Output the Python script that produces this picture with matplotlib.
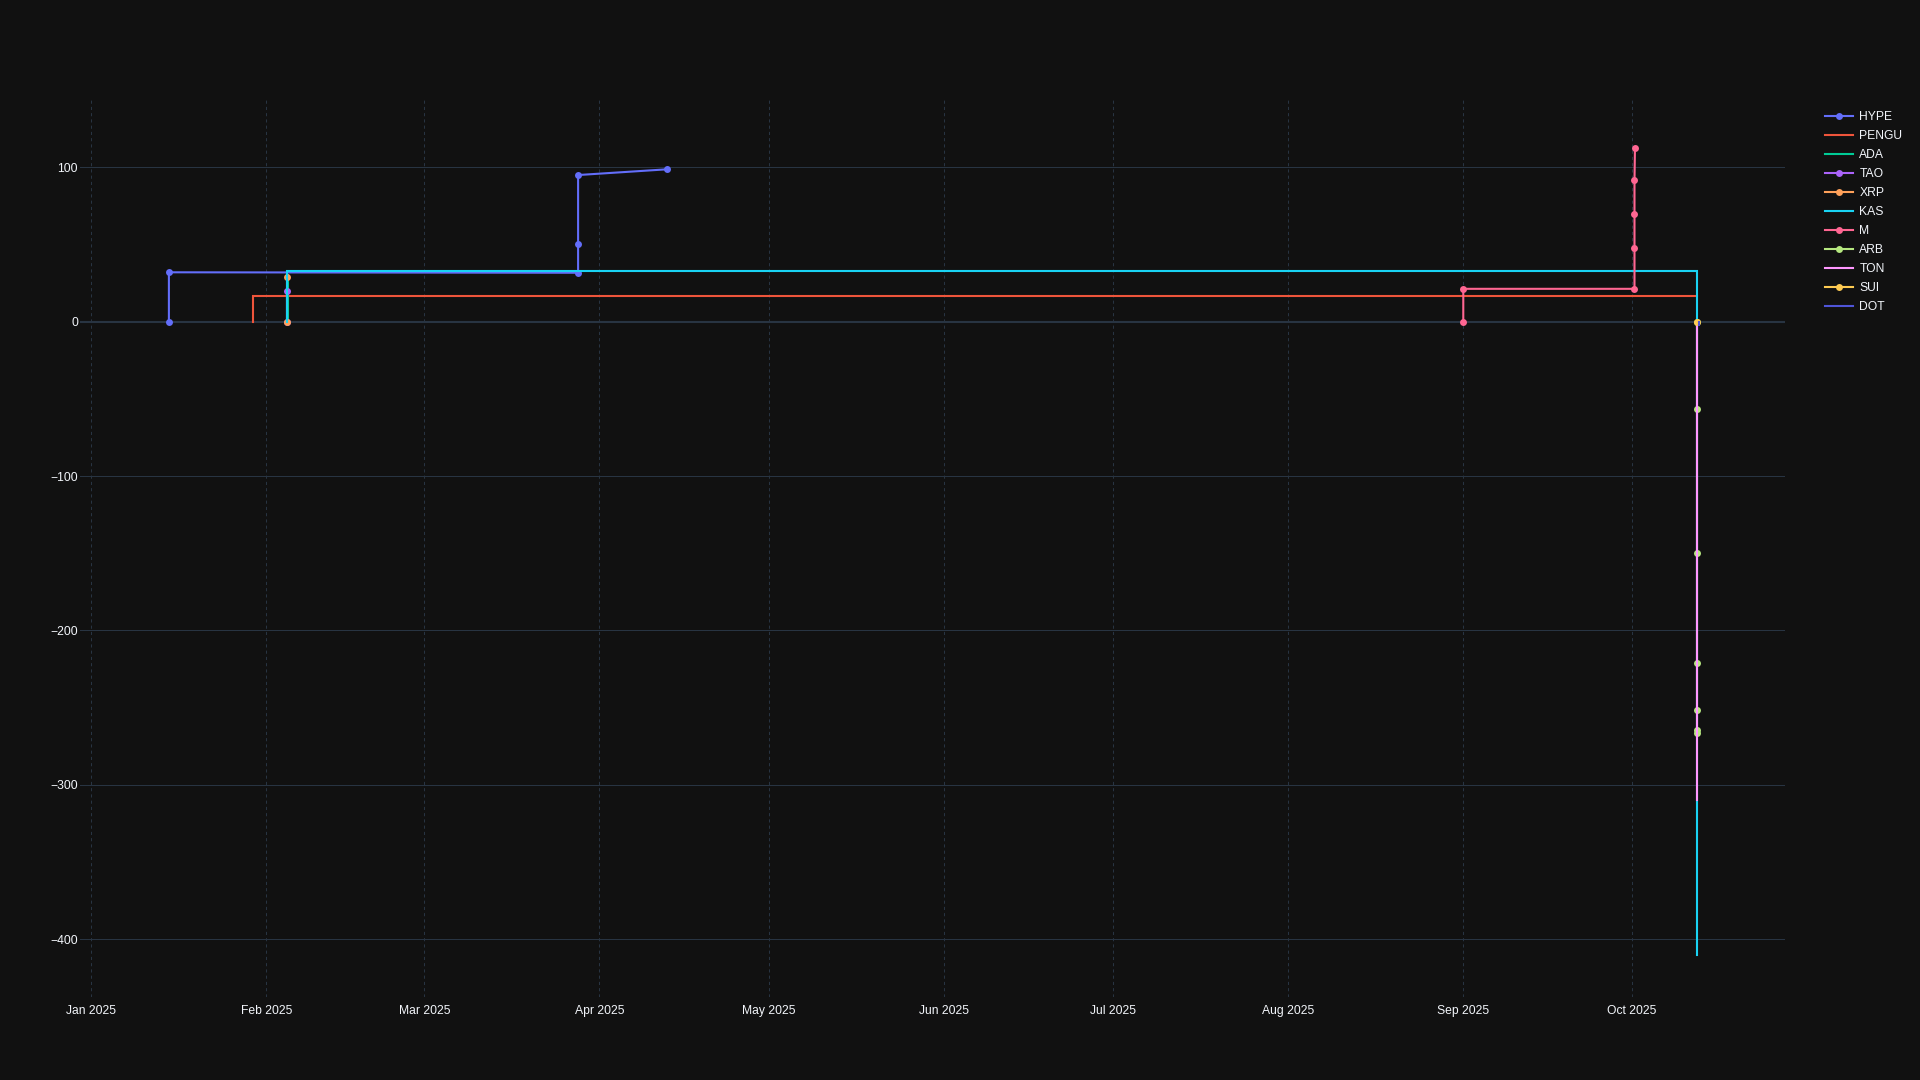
import pandas as pd
import matplotlib
matplotlib.use("Agg")
import matplotlib.pyplot as plt
import matplotlib.dates as mdates
from matplotlib.lines import Line2D

# === Cumulative PnL per coin ===
hype_dates = ["2025-01-14 18:00", "2025-01-14 18:00", "2025-03-28 06:00", "2025-03-28 06:00",
              "2025-03-28 06:00", "2025-04-12 23:00"]
hype_pnl = [0, 32.0, 31.7, 50.1, 95.0, 98.7]

pengu_dates = ["2025-01-29 17:00", "2025-01-29 17:00", "2025-10-12 11:00"]
pengu_pnl = [0, 16.8, 16.8]

ada_dates = ["2025-02-04 19:00", "2025-02-04 19:00"]
ada_pnl = [0, 30.0]

tao_dates = ["2025-02-04 17:00", "2025-02-04 17:00"]
tao_pnl = [0, 20.1]

xrp_dates = ["2025-02-04 17:00", "2025-02-04 17:00"]
xrp_pnl = [0, 28.7]

kas_dates = ["2025-02-04 17:00", "2025-02-04 17:00", "2025-10-12 11:00", "2025-10-12 11:00"]
kas_pnl = [0, 32.9, 32.9, -410.2]

m_dates = ["2025-09-01 02:00", "2025-09-01 02:00", "2025-10-01 10:00", "2025-10-01 10:00",
           "2025-10-01 10:00", "2025-10-01 10:00", "2025-10-01 12:00"]
m_pnl = [0, 21.3, 21.3, 47.7, 69.7, 91.5, 112.3]

arb_dates = ["2025-10-12 11:00"] * 7
arb_pnl = [0, -56.3, -150.0, -221.0, -251.5, -264.5, -266.5]

ton_dates = ["2025-10-12 11:00", "2025-10-12 11:00"]
ton_pnl = [0, -309.8]

sui_dates = ["2025-10-12 11:00"]
sui_pnl = [0]

dot_dates = ["2025-10-12 19:00", "2025-10-12 19:00"]
dot_pnl = [0, -2.0]

series = [
    ("HYPE", hype_dates, hype_pnl, "#636EFA", True),
    ("PENGU", pengu_dates, pengu_pnl, "#EF553B", False),
    ("ADA", ada_dates, ada_pnl, "#00CC96", False),
    ("TAO", tao_dates, tao_pnl, "#AB63FA", True),
    ("XRP", xrp_dates, xrp_pnl, "#FFA15A", True),
    ("KAS", kas_dates, kas_pnl, "#19D3F3", False),
    ("M", m_dates, m_pnl, "#FF6692", True),
    ("ARB", arb_dates, arb_pnl, "#B6E880", True),
    ("TON", ton_dates, ton_pnl, "#FF97FF", False),
    ("SUI", sui_dates, sui_pnl, "#FECB52", True),
    ("DOT", dot_dates, dot_pnl, "#4F55D8", False),
]

bg = "#111111"
grid = "#283442"
txt = "#f2f5fa"
fs = 8.7

plt.rcParams['font.family'] = ['Liberation Sans', 'DejaVu Sans']

fig = plt.figure(figsize=(19.2, 10.8), dpi=100, facecolor=bg)
ax = fig.add_axes([80 / 1920, 83 / 1080, 1705 / 1920, 897 / 1080], facecolor=bg)

lw = 1.5
ms = 5.0
handles = []
for i, (name, d, v, c, mk) in enumerate(series):
    x = pd.to_datetime(d)
    ax.plot(x, v, color=c, lw=lw, marker="o" if mk else None, ms=ms,
            markeredgewidth=0, zorder=3 + i, solid_joinstyle="miter")
    handles.append(Line2D([], [], color=c, lw=lw, marker="o" if mk else None,
                          ms=ms, markeredgewidth=0))

ax.set_xlim(pd.Timestamp("2024-12-30 00:00"), pd.Timestamp("2025-10-28 02:00"))
ax.set_ylim(-437.4, 143.6)

ax.xaxis.set_major_locator(mdates.MonthLocator())
ax.xaxis.set_major_formatter(mdates.DateFormatter("%b %Y"))
ax.set_yticks([-400, -300, -200, -100, 0, 100])

# === Grid styling, plotly dark look ===
for yv in [-400, -300, -200, -100, 100]:
    ax.axhline(yv, color=grid, lw=0.75, zorder=1)
ax.axhline(0, color=grid, lw=1.5, zorder=1)
ax.grid(True, axis="x", color=grid, lw=0.75, linestyle=(0, (3, 3)), zorder=1)

for s in ax.spines.values():
    s.set_visible(False)
ax.tick_params(axis="both", length=0, colors=txt, labelsize=fs)
ax.tick_params(axis="y", pad=1.5)
ax.tick_params(axis="x", pad=6)

fig.legend(handles, [s[0] for s in series], loc="upper left",
           bbox_to_anchor=(1825 / 1920, 1 - 111 / 1080), frameon=False,
           fontsize=fs, labelcolor=txt, handlelength=2.35, handletextpad=0.5,
           labelspacing=0.58, borderpad=0, borderaxespad=0)

fig.savefig("out.png", dpi=100, facecolor=bg)
